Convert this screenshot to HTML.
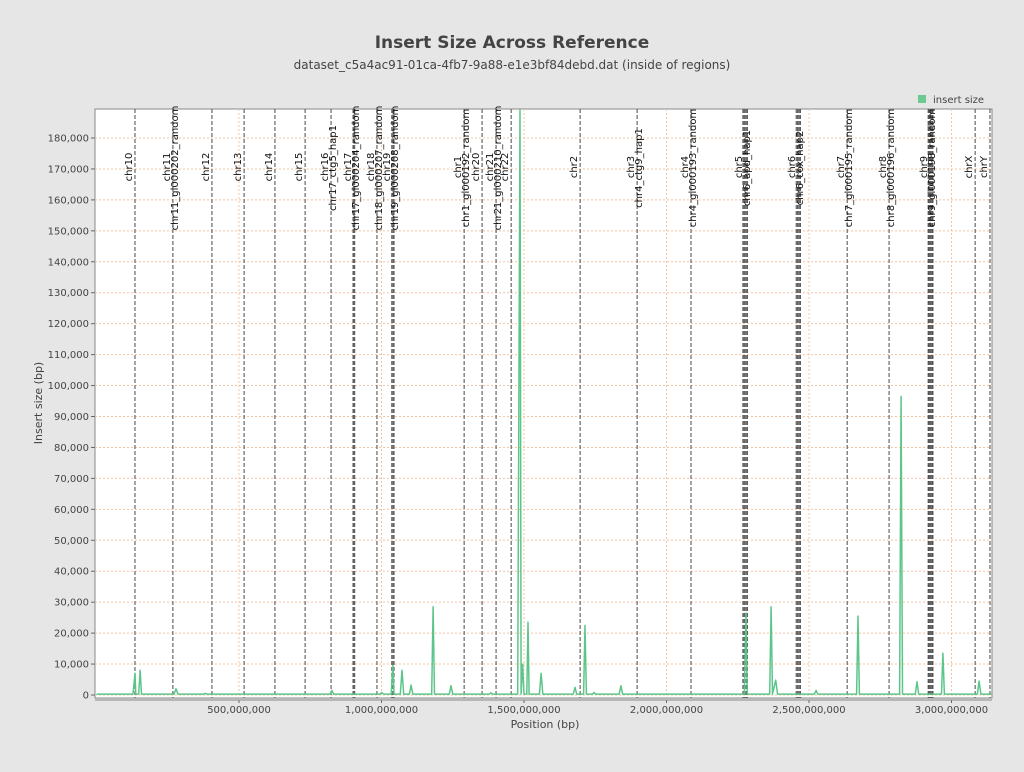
<!DOCTYPE html>
<html><head><meta charset="utf-8"><style>
body{margin:0;background:#e6e6e6;width:1024px;height:768px;overflow:hidden;font-family:"DejaVu Sans","Liberation Sans",sans-serif}
svg text{font-family:"DejaVu Sans","Liberation Sans",sans-serif}
</style></head><body>
<svg id="chart" width="1024" height="768" xmlns="http://www.w3.org/2000/svg">
<rect width="1024" height="768" fill="#e6e6e6"/>
<text x="512" y="48" text-anchor="middle" font-size="17" font-weight="bold" fill="#444">Insert Size Across Reference</text>
<text x="512" y="69" text-anchor="middle" font-size="12" fill="#444">dataset_c5a4ac91-01ca-4fb7-9a88-e1e3bf84debd.dat (inside of regions)</text>
<g>
<rect x="918" y="95" width="8" height="8" fill="#6cc98f"/>
<text x="933" y="103" font-size="10" fill="#444">insert size</text>
</g>
<rect x="95" y="109" width="897" height="589" fill="#fff" stroke="#888" stroke-width="1"/>
<g id="grid"></g>
<g id="markers"></g>
<g id="series"></g>
<g id="axes"></g>
<text transform="translate(42,403) rotate(-90)" text-anchor="middle" font-size="11" fill="#444">Insert size (bp)</text>
<text x="545" y="728" text-anchor="middle" font-size="11" fill="#444">Position (bp)</text>
</svg>
<script>
// data (positions in Mbp)
const xTicks = [500, 1000, 1500, 2000, 2500, 3000];
const yTicks = [0,10000,20000,30000,40000,50000,60000,70000,80000,90000,100000,110000,120000,130000,140000,150000,160000,170000,180000];
const markerPos = [135,268,405,518,626,732,823,904,984,1040,1290,1353,1402,1455,1697,1897,2086,2276,2462,2634,2781,2925,3083,3135];
const markerLeft = ["chr10","chr11","chr12","chr13","chr14","chr15","chr16","chr17","chr18","chr19","chr1","chr20","chr21","chr22","chr2","chr3","chr4","chr5","chr6","chr7","chr8","chr9","chrX","chrY"];
const markerRight = ["","chr11_gl000202_random","","","","","chr17_ctg5_hap1","chr17_gl000204_random","chr18_gl000207_random","chr19_gl000208_random","chr1_gl000192_random","","chr21_gl000210_random","","","chr4_ctg9_hap1","chr4_gl000193_random","chr6_apd_hap1","chr6_cox_hap2","chr7_gl000195_random","chr8_gl000196_random","chr9_gl000198_random","",""];
const clusterPos = [900,906,1036,1044,2268,2272,2280,2284,2455,2459,2466,2470,2918,2921,2928,2932,2935];
const seriesX = [0,128,135,138,148,153,158,272,279,286,375,381,387,820,826,832,995,1001,1007,1034,1040,1044,1066,1072,1078,1098,1104,1110,1176,1181,1186,1238,1244,1250,1378,1384,1390,1478,1486,1490,1495,1500,1510,1514,1518,1554,1560,1566,1673,1679,1685,1709,1714,1719,1741,1746,1751,1834,1840,1846,2273,2279,2283,2362,2367,2372,2383,2390,2519,2525,2531,2667,2672,2677,2818,2823,2828,2873,2879,2885,2965,2970,2975,3091,3097,3103,3140];
const seriesY = [300,300,7000,300,300,8000,300,300,2000,300,300,500,300,300,1500,300,300,800,300,300,9500,300,300,8000,300,300,3200,300,300,28500,300,300,3000,300,300,700,300,300,200000,300,10000,300,300,23500,300,300,7000,300,300,2500,300,300,22500,300,300,800,300,300,3000,300,300,26500,300,300,28500,300,4800,300,300,1500,300,300,25500,300,300,96500,300,300,4300,300,300,13500,300,300,4500,300,300];

const NS="http://www.w3.org/2000/svg";
const L=95,R=992,T=109,B=698;
const X0=96.5, PXM=0.285; // px per Mbp
const sx=v=>X0+v*PXM;
const sy=v=>695-v*(557/180000);
function mk(tag,attrs,parent){const e=document.createElementNS(NS,tag);for(const k in attrs)e.setAttribute(k,attrs[k]);parent.appendChild(e);return e;}
const grid=document.getElementById('grid'),markers=document.getElementById('markers'),series=document.getElementById('series'),axes=document.getElementById('axes');
yTicks.forEach(v=>{
  const ln=mk('line',{x1:L,x2:R,y1:sy(v),y2:sy(v),stroke:'#f2c4a2','stroke-width':1,'stroke-dasharray':'2,2'},grid);
  
  
  const tk=mk('line',{x1:L-4,x2:L,y1:sy(v),y2:sy(v),stroke:'#666'},axes);
  
  
  const t=mk('text',{x:L-6,y:sy(v)+3.5,'text-anchor':'end','font-size':10,fill:'#444'},axes);
  t.textContent=v.toLocaleString('en-US');
  
  
});
xTicks.forEach(v=>{
  const ln=mk('line',{x1:sx(v),x2:sx(v),y1:T,y2:B,stroke:'#f2c4a2','stroke-width':1,'stroke-dasharray':'2,2'},grid);
  
  
  const tk=mk('line',{x1:sx(v),x2:sx(v),y1:B+2,y2:B+5,stroke:'#666'},axes);
  
  
  const t=mk('text',{x:sx(v),y:713,'text-anchor':'middle','font-size':10,fill:'#444'},axes);
  t.textContent=(v*1e6).toLocaleString('en-US');
  
  
});
const ax=mk('line',{x1:L,x2:R,y1:B+2,y2:B+2,stroke:'#888'},axes);


clusterPos.forEach(p=>{
  const ln=mk('line',{x1:sx(p),x2:sx(p),y1:T,y2:B,stroke:'#555','stroke-width':1,'stroke-dasharray':'4,2'},markers);
  
  
});
markerPos.forEach((p,i)=>{
  const x=sx(p);
  const ln=mk('line',{x1:x,x2:x,y1:T,y2:B,stroke:'#666','stroke-width':1.2,'stroke-dasharray':'4,2'},markers);
  
  
  const t=mk('text',{transform:`translate(${x-3},167) rotate(-90)`,'text-anchor':'middle','font-size':10,fill:'#111'},markers);
  t.textContent=markerLeft[i];
  
  
  if(markerRight[i]){
    const t2=mk('text',{transform:`translate(${x+5},168) rotate(-90)`,'text-anchor':'middle','font-size':10,fill:'#111'},markers);
    t2.textContent=markerRight[i];
    
    
  }
});
const pts=seriesX.map((p,i)=>sx(p).toFixed(1)+','+Math.max(sy(seriesY[i]),T-2).toFixed(1)).join(' ');
const cp=mk('clipPath',{id:'clip'},series);mk('rect',{x:L,y:T,width:R-L,height:B-T},cp);
const pl=mk('polyline',{points:pts,fill:'none',stroke:'#5cc68a','stroke-width':1.5,'clip-path':'url(#clip)','stroke-linejoin':'round'},series);


</script>
</body></html>
